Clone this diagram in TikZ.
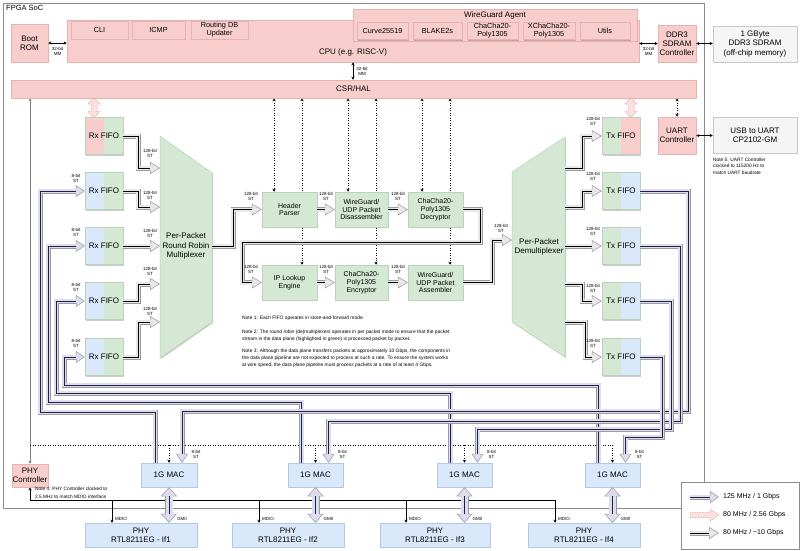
\documentclass[tikz,border=0pt]{standalone}
\usepackage{fontspec}
\setmainfont{Liberation Sans}
\usetikzlibrary{arrows.meta,shadows}
\pgfdeclarelayer{bg}
\pgfsetlayers{bg,main}
\definecolor{pinkf}{HTML}{F8CECC}
\definecolor{pinkd}{HTML}{E6B3B1}
\definecolor{greenf}{HTML}{D5E8D4}
\definecolor{greend}{HTML}{B9D3B6}
\definecolor{bluef}{HTML}{DAE8FC}
\definecolor{blued}{HTML}{B3C7E6}
\definecolor{grayf}{HTML}{F5F5F5}
\definecolor{grayd}{HTML}{C8C8C8}
\definecolor{framec}{HTML}{8C8C8C}
\definecolor{pipeo}{HTML}{9A9A9A}
\definecolor{pipefA}{HTML}{DCDDEF}
\definecolor{pipefC}{HTML}{E8E8E8}
\definecolor{navyc}{HTML}{1F1F3F}
\definecolor{pinkpo}{HTML}{E89A98}
\definecolor{pinkpf}{HTML}{FBE2E1}
\tikzset{
  base/.style={rectangle, inner sep=0pt, align=center, line width=0.5pt,
    font=\fontsize{8}{9.2}\selectfont,
    drop shadow={shadow xshift=1pt, shadow yshift=-1pt, opacity=0.2, fill=black}},
  pinkbox/.style={base, fill=pinkf, draw=pinkd},
  greenbox/.style={base, fill=greenf, draw=greend},
  bluebox/.style={base, fill=bluef, draw=blued},
  graybox/.style={base, fill=grayf, draw=grayd},
  sz/.style 2 args={minimum width=#1pt, minimum height=#2pt},
  subfont/.style={font=\fontsize{7.3}{7.8}\selectfont},
  pfont/.style={font=\fontsize{7}{7.8}\selectfont},
  rxfifo/.style={base, fill=greenf, draw=greend, minimum width=38pt, minimum height=37pt,
    path picture={\fill[#1] (path picture bounding box.south west) rectangle (path picture bounding box.north);}},
  txfifo/.style={base, fill=greenf, draw=greend, minimum width=38pt, minimum height=37pt,
    path picture={\fill[#1] (path picture bounding box.south east) rectangle (path picture bounding box.north);}},
  lbl/.style={font=\fontsize{4.5}{4.9}\selectfont, align=center, inner sep=0pt},
  note/.style={font=\fontsize{4.9}{7}\selectfont, align=left, anchor=north west, inner sep=0pt},
  legtext/.style={font=\fontsize{7}{8}\selectfont, anchor=west, inner sep=0pt},
  mm/.style={draw=black, line width=0.5pt, {Stealth[length=3pt,width=3pt]}-{Stealth[length=3pt,width=3pt]}},
  dotarr/.style={mm, dotted},
  pA/.style={
    preaction={draw=pipeo, line width=0.5pt, -{Triangle[length=9pt,width=12pt,fill=pipefA]}},
    preaction={draw=pipeo, line width=5pt, shorten >=8.6pt},
    preaction={draw=pipefA, line width=4pt, shorten >=8pt},
    postaction={draw=navyc, line width=0.6pt, shorten >=9pt}},
  pAA/.style={
    preaction={draw=pipeo, line width=0.5pt, {Triangle[length=9pt,width=16pt,fill=pipefA]}-{Triangle[length=9pt,width=16pt,fill=pipefA]}},
    preaction={draw=pipeo, line width=8pt, shorten >=8.6pt, shorten <=8.6pt},
    preaction={draw=pipefA, line width=7pt, shorten >=8pt, shorten <=8pt},
    postaction={draw=navyc, line width=0.6pt, shorten >=9pt, shorten <=9pt}},
  pC/.style={
    preaction={draw=pipeo, line width=0.5pt, -{Triangle[length=10pt,width=12pt,fill=pipefC]}},
    preaction={draw=pipeo, line width=5pt, shorten >=9.6pt},
    preaction={draw=pipefC, line width=4pt, shorten >=9pt},
    postaction={draw=black, line width=0.6pt, shorten >=10pt}},
}
\newcommand{\pinkv}[3]{%
  \draw[pinkpo, fill=pinkpf, dash pattern=on 1.6pt off 1pt, line width=0.5pt]
   (#1,#2) -- (#1+6,#2+6) -- (#1+3,#2+6) -- (#1+3,#3-6) -- (#1+6,#3-6) -- (#1,#3)
   -- (#1-6,#3-6) -- (#1-3,#3-6) -- (#1-3,#2+6) -- (#1-6,#2+6) -- cycle;}
\begin{document}
\begin{tikzpicture}[x=1pt,y=-1pt]
\useasboundingbox (0,0) rectangle (800,550);
\node[anchor=north west, inner sep=0pt, font=\fontsize{7.5}{8}\selectfont] (soc) at (6,5) {FPGA SoC};
% ---------- top row
\node[pinkbox, sz={37}{38}] (boot) at (29.5,43) {Boot\\ROM};
\node[pinkbox, sz={572}{42}] (cpu) at (353,41) {};
\node[inner sep=0pt, font=\fontsize{8}{9}\selectfont] (cpulbl) at (353,52) {CPU (e.g. RISC-V)};
\node[pinkbox, sz={57}{18}, subfont] (cli) at (99.5,30) {CLI};
\node[pinkbox, sz={53}{18}, subfont] (icmp) at (158.5,30) {ICMP};
\node[pinkbox, sz={57}{18}, subfont] (rdb) at (219.5,30) {Routing DB\\Updater};
\node[pinkbox, sz={284}{32}] (agent) at (495,25) {};
\node[inner sep=0pt, font=\fontsize{8}{9}\selectfont] (agentlbl) at (495,15) {WireGuard Agent};
\node[pinkbox, sz={51}{17}, subfont] (curve) at (382.5,31) {Curve25519};
\node[pinkbox, sz={49}{17}, subfont] (blake) at (437.5,31) {BLAKE2s};
\node[pinkbox, sz={51}{17}, subfont] (chacha) at (492.5,31) {ChaCha20-\\Poly1305};
\node[pinkbox, sz={52}{17}, subfont] (xchacha) at (549,31) {XChaCha20-\\Poly1305};
\node[pinkbox, sz={50}{17}, subfont] (utils) at (605,31) {Utils};
\node[pinkbox, sz={38}{37}] (ddrc) at (677,43.5) {DDR3\\SDRAM\\Controller};
\node[graybox, sz={84}{36}] (ddr) at (755,44) {1 GByte\\DDR3 SDRAM\\(off-chip memory)};
\node[pinkbox, sz={685}{18}] (csr) at (353.5,89) {CSR/HAL};
\node[pinkbox, sz={38}{37}] (uart) at (677,135.5) {UART\\Controller};
\node[graybox, sz={84}{36}] (usb) at (755,135) {USB to UART\\CP2102-GM};
\node[note, font=\fontsize{4.8}{6.6}\selectfont] (note5) at (713,157.5) {Note 5: UART Controller\\clocked to 115200 Hz to\\match UART baudrate};
% ---------- FIFOs
\node[rxfifo=pinkf] (rx1) at (104,136) {Rx FIFO};
\node[rxfifo=bluef] (rx2) at (104,191) {Rx FIFO};
\node[rxfifo=bluef] (rx3) at (104,246) {Rx FIFO};
\node[rxfifo=bluef] (rx4) at (104,301) {Rx FIFO};
\node[rxfifo=bluef] (rx5) at (104,357) {Rx FIFO};
\node[txfifo=pinkf] (tx1) at (621,136) {Tx FIFO};
\node[txfifo=bluef] (tx2) at (621,191) {Tx FIFO};
\node[txfifo=bluef] (tx3) at (621,246) {Tx FIFO};
\node[txfifo=bluef] (tx4) at (621,301) {Tx FIFO};
\node[txfifo=bluef] (tx5) at (621,357) {Tx FIFO};
% ---------- mux / demux
\path[fill=greenf, draw=greend, line width=0.5pt, drop shadow={shadow xshift=1pt, shadow yshift=-1pt, opacity=0.2, fill=black}]
  (160,136) -- (212,173) -- (212,322) -- (160,358) -- cycle;
\node[align=center, inner sep=0pt, font=\fontsize{8}{9.4}\selectfont] (mux) at (186,246) {Per-Packet\\Round Robin\\Multiplexer};
\path[fill=greenf, draw=greend, line width=0.5pt, drop shadow={shadow xshift=1pt, shadow yshift=-1pt, opacity=0.2, fill=black}]
  (565,137) -- (565,357) -- (512,322) -- (512,172) -- cycle;
\node[align=center, inner sep=0pt, font=\fontsize{8}{9.4}\selectfont] (demux) at (539,247) {Per-Packet\\Demultiplexer};
\foreach \i/\y in {1/168,2/207,3/246,4/284,5/322}{
  \coordinate (mi\i) at (160,\y);
  \coordinate (do\i) at (565,\y);}
\coordinate (mo) at (212,246);
\coordinate (di) at (512,240);
% ---------- pipeline
\node[greenbox, sz={55}{35}, pfont] (hp) at (289.5,209.5) {Header\\Parser};
\node[greenbox, sz={53}{35}, pfont] (dis) at (361.5,209.5) {WireGuard/\\UDP Packet\\Disassembler};
\node[greenbox, sz={55}{35}, pfont] (dec) at (435.5,209.5) {ChaCha20-\\Poly1305\\Decryptor};
\node[greenbox, sz={55}{35}, pfont] (ip) at (289.5,282.5) {IP Lookup\\Engine};
\node[greenbox, sz={53}{35}, pfont] (enc) at (361.5,282.5) {ChaCha20-\\Poly1305\\Encryptor};
\node[greenbox, sz={55}{35}, pfont] (asm) at (435.5,282.5) {WireGuard/\\UDP Packet\\Assembler};
% ---------- MACs and PHYs
\node[bluebox, sz={56}{24}] (mac1) at (169,475) {1G MAC};
\node[bluebox, sz={55}{24}] (mac2) at (315.5,475) {1G MAC};
\node[bluebox, sz={55}{24}] (mac3) at (464.5,475) {1G MAC};
\node[bluebox, sz={55}{24}] (mac4) at (612.5,475) {1G MAC};
\node[bluebox, sz={112}{24}] (phy1) at (141,535) {PHY\\RTL8211EG - If1};
\node[bluebox, sz={112}{24}] (phy2) at (288,535) {PHY\\RTL8211EG - If2};
\node[bluebox, sz={110}{24}] (phy3) at (435,535) {PHY\\RTL8211EG - If3};
\node[bluebox, sz={112}{24}] (phy4) at (584,535) {PHY\\RTL8211EG - If4};
\node[pinkbox, sz={36}{23}] (phyc) at (30,475.5) {PHY\\Controller};
\node[note, font=\fontsize{4.8}{7.4}\selectfont] (note4) at (35,487) {Note 4: PHY Controller clocked to\\2.5 MHz to match MDIO interface};
% ---------- background lines
\begin{pgfonlayer}{bg}
\fill[white] (0,0) rectangle (800,550);
\draw[framec, line width=0.6pt] (3,3) rectangle (704,508);
\foreach \x/\n [count=\i] in {274/hp,302/ip,348/dis,376/enc,422/dec,450/asm}{
  \coordinate (dx\i) at (\x,0);
  \draw[dotarr] (csr.south -| dx\i) -- (\n.north -| dx\i);}
\draw[dotarr] (csr.south -| uart.north) -- (uart.north);
\draw[mm, draw=gray] (csr.south -| phyc.north) -- (phyc.north);
\coordinate (hl) at (0,445);
\draw[dotted, line width=0.5pt] (phyc.north |- hl) -- (mac4.north |- hl);
\foreach \m in {mac1,mac2,mac3,mac4}{
  \draw[dotted, line width=0.5pt, -{Stealth[length=3pt,width=3pt]}] (\m.north |- hl) -- (\m.north);}
\coordinate (md) at (0,500);
\foreach \p in {1,2,3,4}{\coordinate (m\p) at ([xshift=-29pt]phy\p.north);}
\draw[line width=0.5pt, {Stealth[length=3pt,width=3pt]}-] (phyc.south) |- (m4 |- md);
\foreach \p in {1,2,3,4}{
  \draw[line width=0.5pt, -{Stealth[length=3pt,width=3pt]}] (m\p |- md) -- (m\p);
  \node[lbl, anchor=west] at ([xshift=3pt, yshift=3.5pt]m\p) {MDIO};}
\end{pgfonlayer}
% ---------- small MM arrows
\draw[mm] (boot.east) -- (cpu.west |- boot.east);
\node[lbl] at (57.5,51) {32-bit\\MM};
\draw[mm] (cpu.east |- ddrc.west) -- (ddrc.west);
\node[lbl] at (648.5,51) {32-bit\\MM};
\draw[mm] (ddrc.east) -- (ddr.west |- ddrc.east);
\draw[mm] (cpu.south) -- (cpu.south |- csr.north);
\node[lbl] at (362,71) {32-bit\\MM};
\draw[mm] (uart.east) -- (usb.west |- uart.east);
% ---------- pink control arrows
\pinkv{94}{98}{117.5}
\pinkv{631}{98}{117.5}
% ---------- data plane pipes
\path[pC] (rx1.east) -| (138,168) -- (mi1);
\path[pC] (rx2.east) -| (138,207) -- (mi2);
\path[pC] (rx3.east) -- (mi3);
\path[pC] (rx4.east) -| (138,284) -- (mi4);
\path[pC] (rx5.east) -| (138,322) -- (mi5);
\path[pC] (mo) -| (233,209.5) -- (hp.west);
\path[pC] (hp.east) -- (dis.west);
\path[pC] (dis.east) -- (dec.west);
\path[pC] (dec.east) -| (480,242) -| (242,282.5) -- (ip.west);
\path[pC] (ip.east) -- (enc.west);
\path[pC] (enc.east) -- (asm.west);
\path[pC] (asm.east) -| (492,240) -- (di);
\path[pC] (do1) -| (582,136) -- (tx1.west);
\path[pC] (do2) -| (582,191) -- (tx2.west);
\path[pC] (do3) -- (tx3.west);
\path[pC] (do4) -| (582,301) -- (tx4.west);
\path[pC] (do5) -| (585,357) -- (tx5.west);
\foreach \x/\y in {150/153,150/195,150/233,150/271,150/311,593/121,593/176,593/231,593/288,593/343,
  251/196,326/196,398/196,251/269,326/269,398/269,501/228}{
  \node[lbl] at (\x,\y) {128-bit\\ST};}
% ---------- MAC side pipes
\path[pA] ([xshift=-14pt]mac1.north) |- (40,412) |- (rx2.west);
\path[pA] ([xshift=-14pt]mac2.north) |- (48,402) |- (rx3.west);
\path[pA] ([xshift=-14pt]mac3.north) |- (56,393) |- (rx4.west);
\path[pA] ([xshift=-14pt]mac4.north) |- (64,385) |- (rx5.west);
\path[pA] (tx2.east) -| (688,411) -| ([xshift=13pt]mac1.north);
\path[pA] (tx3.east) -| (680,421) -| ([xshift=13pt]mac2.north);
\path[pA] (tx4.east) -| (671,429) -| ([xshift=13pt]mac3.north);
\path[pA] (tx5.east) -| (662,437) -| ([xshift=13pt]mac4.north);
\foreach \y in {178,232,287,343}{\node[lbl] at (76,\y) {8-bit\\ST};}
\foreach \m in {mac1,mac2,mac3,mac4}{
  \node[lbl] at ([xshift=27pt,yshift=8pt]\m.north) {8-bit\\ST};
  \path[pAA] (\m.south) -- (\m.south |- phy1.north);
  \node[lbl, anchor=west] at ([xshift=8pt,yshift=3.5pt]\m.south |- phy1.north) {GMII};}
% ---------- notes
\node[note] (n1) at (242,316) {Note 1: Each FIFO operates in store-and-forward mode.};
\node[note] (n2) at (242,330) {Note 2: The round robin (de)multiplexers operates in per packet mode to ensure that the packet\\stream in the data plane (highlighted in green) is processed packet by packet.};
\node[note] (n3) at (242,349) {Note 3: Although the data plane transfers packets at approximately 10 Gbps, the components in\\the data plane pipeline are not expected to process at such a rate. To ensure the system works\\at wire speed, the data plane pipeline must process packets at a rate of at least 4 Gbps.};
% ---------- legend
\draw[framec, fill=white, line width=0.6pt] (681,482) rectangle (799.5,549.5);
\coordinate (la1) at (690,497); \coordinate (lb1) at (719,497);
\path[pA] (la1) -- (lb1);
\node[legtext] (lt1) at (723,497) {125 MHz / 1 Gbps};
\draw[pinkpo, fill=pinkpf, dash pattern=on 1.6pt off 1pt, line width=0.5pt]
  (719,515) -- (710,509) -- (710,512.5) -- (690,512.5) -- (690,517.5) -- (710,517.5) -- (710,521) -- cycle;
\node[legtext] (lt2) at (723,515) {80 MHz / 2.56 Gbps};
\coordinate (la3) at (690,533); \coordinate (lb3) at (719,533);
\path[pC] (la3) -- (lb3);
\node[legtext] (lt3) at (723,533) {80 MHz / \textasciitilde10 Gbps};
\end{tikzpicture}
\end{document}
